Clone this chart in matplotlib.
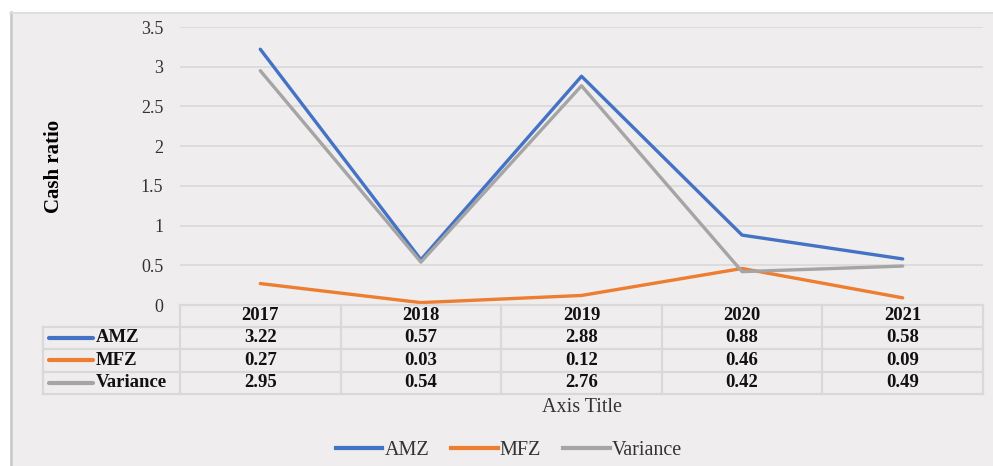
import matplotlib
matplotlib.use("Agg")
import matplotlib.pyplot as plt
from matplotlib.lines import Line2D
from matplotlib.patches import Rectangle
import matplotlib.transforms as mtransforms

years = ["2017", "2018", "2019", "2020", "2021"]
amz = [3.22, 0.57, 2.88, 0.88, 0.58]
mfz = [0.27, 0.03, 0.12, 0.46, 0.09]
variance = [2.95, 0.54, 2.76, 0.42, 0.49]
series_names = ["AMZ", "MFZ", "Variance"]
colors = ["#4472c4", "#ed7d31", "#a5a5a5"]
yticks = [0, 0.5, 1, 1.5, 2, 2.5, 3, 3.5]
ytick_labels = ["0", "0.5", "1", "1.5", "2", "2.5", "3", "3.5"]

W, H = 993, 466
fig = plt.figure(figsize=(W / 100, H / 100), dpi=100)
fig.patch.set_facecolor("white")
plt.rcParams["font.family"] = ["Liberation Serif", "DejaVu Serif"]

def fx(x):
    return x / W

def fy(y):
    return 1 - y / H

bg = "#efedee"
grid_c = "#d9d9d9"
# chart area background and borders
fig.patches.append(Rectangle((fx(10), 0), 1 - fx(10), fy(12), transform=fig.transFigure,
                             facecolor=bg, edgecolor="none", zorder=-5))
fig.lines.append(Line2D([fx(10.5), fx(10.5)], [0, fy(12)], transform=fig.transFigure,
                        color="#c8c8c8", lw=1.8, zorder=-4))
fig.lines.append(Line2D([fx(10), 1], [fy(12.5), fy(12.5)], transform=fig.transFigure,
                        color="#dcdcdc", lw=1.2, zorder=-4))

L, R, T, B = 180, 983, 27, 305
ax = fig.add_axes([fx(L), fy(B), fx(R) - fx(L), fy(T) - fy(B)])
ax.set_zorder(2)
ax.set_facecolor("none")
xs = list(range(len(years)))
for vals, c in zip([amz, mfz, variance], colors):
    ax.plot(xs, vals, color=c, lw=2.4, solid_capstyle="round", solid_joinstyle="round", zorder=3)
ax.set_xlim(-0.5, len(years) - 0.5)
ax.set_ylim(0, 3.5)
ax.set_yticks(yticks)
ax.set_yticklabels(ytick_labels, fontsize=13, color="#333333")
ax.tick_params(axis="y", length=0, pad=12)
ax.set_xticks([])
for s in ax.spines.values():
    s.set_visible(False)
for yv in yticks[1:]:
    ax.axhline(yv, color=grid_c, lw=1.2, zorder=1)
ax.set_ylabel("Cash ratio", fontsize=15, fontweight="bold")
ax.yaxis.set_label_coords(-(180 - 64) / (R - L), 0.5)

# data table
blend = mtransforms.blended_transform_factory(ax.transData, fig.transFigure)
row_edges = [305, 326.5, 349, 371.5, 394]
tl = dict(color=grid_c, lw=1.6, clip_on=False)
for i, y in enumerate(row_edges):
    fig.lines.append(Line2D([fx(L), fx(R)], [fy(y), fy(y)], transform=fig.transFigure, **tl))
    if i >= 1:
        fig.lines.append(Line2D([fx(43), fx(L)], [fy(y), fy(y)], transform=fig.transFigure, **tl))
for xb in [x - 0.5 for x in xs] + [len(years) - 0.5]:
    fig.lines.append(Line2D([xb, xb], [fy(row_edges[0]), fy(row_edges[-1])], transform=blend, **tl))
fig.lines.append(Line2D([fx(43), fx(43)], [fy(row_edges[1]), fy(row_edges[-1])],
                        transform=fig.transFigure, **tl))

tfs = 13.5
hc = (row_edges[0] + row_edges[1]) / 2
for x, yr in zip(xs, years):
    t = fig.text(0, 0, yr, transform=blend, fontsize=tfs, fontweight="bold", ha="center",
                 va="center", color="#111111")
    t.set_position((x, fy(hc)))
for r, (name, vals, c) in enumerate(zip(series_names, [amz, mfz, variance], colors)):
    yc = (row_edges[r + 1] + row_edges[r + 2]) / 2
    fig.lines.append(Line2D([fx(49), fx(93)], [fy(yc), fy(yc)], transform=fig.transFigure,
                            color=c, lw=3, solid_capstyle="round"))
    fig.text(fx(96), fy(yc), name, fontsize=tfs, fontweight="bold", ha="left", va="center",
             color="#111111")
    for x, v in zip(xs, vals):
        t = fig.text(0, 0, f"{v:.2f}", transform=blend, fontsize=tfs, fontweight="bold",
                     ha="center", va="center", color="#111111")
        t.set_position((x, fy(yc)))

fig.text(fx(582), fy(407), "Axis Title", fontsize=14.5, ha="center", va="center", color="#333333")

handles = [Line2D([], [], color=c, lw=3) for c in colors]
fig.legend(handles, series_names, loc="center", bbox_to_anchor=(fx(509), fy(450)), ncol=3,
           frameon=False, fontsize=14.5, handlelength=2.3, handletextpad=0.1,
           columnspacing=1.1, labelcolor="#333333")

fig.savefig("out.png", dpi=100, facecolor=fig.get_facecolor())
